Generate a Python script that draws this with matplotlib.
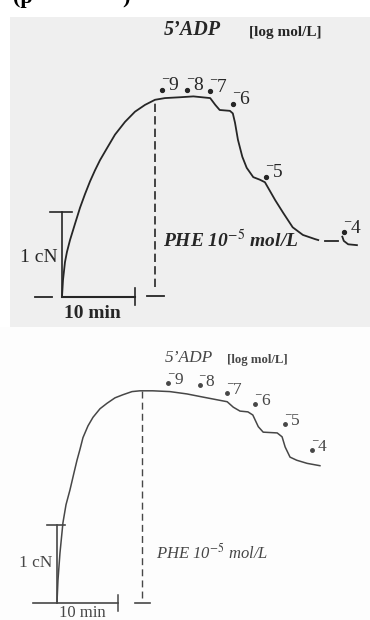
import matplotlib
matplotlib.use("Agg")
import matplotlib.pyplot as plt

plt.rcParams["font.family"] = ["Liberation Serif", "DejaVu Serif"]
plt.rcParams["mathtext.fontset"] = "stix"

# ---- pannello superiore: tensione (cN) nel tempo (min) ----
t_sup = [0, 0.14, 0.41, 0.68, 1.1, 1.78, 2.47, 3.15, 3.84, 4.52, 5.21, 6.16, 7.26, 8.63,
         10.0, 11.37, 12.74, 14.1, 16.2, 18.0, 20.3, 21.0, 21.6, 23.0, 23.4, 23.7, 24.1,
         24.7, 25.3, 26.2, 27.1, 27.8, 28.2, 29.2, 30.3, 31.6, 33.0, 34.7, 35.1]
f_sup = [0, 0.2, 0.41, 0.53, 0.67, 0.86, 1.05, 1.21, 1.36, 1.49, 1.61, 1.75, 1.91, 2.06,
         2.18, 2.26, 2.32, 2.34, 2.35, 2.36, 2.34, 2.26, 2.2, 2.19, 2.16, 2.05, 1.85,
         1.65, 1.52, 1.41, 1.38, 1.35, 1.29, 1.14, 0.99, 0.82, 0.73, 0.68, 0.67]
# pezzetti finali della traccia
t_sup_trat = [36.0, 37.8]
f_sup_trat = [0.66, 0.66]
t_sup_coda = [38.4, 38.6, 39.2, 40.4]
f_sup_coda = [0.71, 0.66, 0.62, 0.61]

# ---- pannello inferiore ----
t_inf = [0, 0.16, 0.49, 0.98, 1.48, 2.13, 2.79, 3.28, 3.77, 4.26, 5.08, 5.9, 7.05, 8.2,
         9.51, 10.82, 12.3, 13.6, 15.7, 18.5, 21.3, 23.9, 27.9, 28.9, 30.0, 31.3, 32.1,
         33.0, 33.8, 36.1, 36.9, 37.4, 38.2, 39.3, 41.0, 43.1]
f_inf = [0, 0.29, 0.64, 1.03, 1.26, 1.45, 1.67, 1.83, 1.97, 2.12, 2.27, 2.38, 2.49, 2.56,
         2.63, 2.67, 2.71, 2.72, 2.72, 2.71, 2.68, 2.64, 2.58, 2.51, 2.46, 2.45, 2.41,
         2.26, 2.19, 2.18, 2.13, 2.0, 1.87, 1.83, 1.79, 1.76]

# concentrazioni di 5'ADP (log mol/L) e punto dove sono state aggiunte
dosi = ["9", "8", "7", "6", "5", "4"]
t_dosi_sup = [13.7, 17.1, 20.3, 23.4, 27.9, 38.6]
f_dosi_sup = [2.44, 2.44, 2.42, 2.27, 1.41, 0.76]
t_dosi_inf = [18.2, 23.4, 27.9, 32.5, 37.4, 41.8]
f_dosi_inf = [2.82, 2.79, 2.69, 2.55, 2.29, 1.96]

# istante di aggiunta della fenilefrina
t_phe_sup = 12.7
t_phe_inf = 13.9

fig = plt.figure(figsize=(3.7, 6.2), dpi=100)

# scritta tagliata in alto a sinistra
fig.text(13 / 370, 1 - 3 / 620, "(p", fontsize=16, fontweight="bold", va="baseline")
fig.text(122 / 370, 1 - 3 / 620, ")", fontsize=16, fontweight="bold", va="baseline")


def pulisci(ax, colore):
    ax.set_facecolor(colore)
    for s in ax.spines.values():
        s.set_visible(False)
    ax.set_xticks([])
    ax.set_yticks([])


# ================= SOPRA =================
ax1 = fig.add_axes([10 / 370, 1 - 327 / 620, 360 / 370, 310 / 620])
pulisci(ax1, "#efefef")
ax1.set_xlim(-7.12, 42.19)
ax1.set_ylim(-0.353, 3.294)

c1 = "#262626"
ax1.plot(t_sup, f_sup, color=c1, lw=1.3)
ax1.plot(t_sup_trat, f_sup_trat, color=c1, lw=1.3)
ax1.plot(t_sup_coda, f_sup_coda, color=c1, lw=1.3)

# linea tratteggiata PHE
ax1.plot([t_phe_sup, t_phe_sup], [0.12, 2.32], color=c1, lw=1.2, ls=(0, (5, 2.5)))
ax1.plot([t_phe_sup - 1.1, t_phe_sup + 1.3], [0.01, 0.01], color=c1, lw=1.3)

# barre di scala 1 cN / 10 min
ax1.plot([0, 0], [0, 1], color=c1, lw=1.2)
ax1.plot([-1.64, 1.37], [1, 1], color=c1, lw=1.2)
ax1.plot([0, 10], [0, 0], color=c1, lw=1.5)
ax1.plot([10, 10], [-0.09, 0.1], color=c1, lw=1.2)
ax1.plot([-3.7, -1.37], [0, 0], color=c1, lw=1.3)
ax1.text(-0.6, 0.47, "1 cN", fontsize=14, ha="right", va="center", color=c1)
ax1.text(4.1, -0.19, "10 min", fontsize=14, fontweight="bold", ha="center", va="center", color=c1)

ax1.text(13.8, 0.67, r"PHE 10$^{-5}$ mol/L", fontsize=14, style="italic", fontweight="bold",
         ha="left", va="center", color=c1)
ax1.text(14.0, 3.14, "5\u2019ADP", fontsize=14.5, style="italic", fontweight="bold",
         ha="left", va="center", color=c1)
ax1.text(25.6, 3.11, "[log mol/L]", fontsize=11, fontweight="bold", ha="left", va="center", color=c1)

for d, t, f in zip(dosi, t_dosi_sup, f_dosi_sup):
    ax1.plot(t, f, "o", ms=2.8, color=c1)
    ax1.annotate("\u2013", (t, f), xytext=(2.4, 8.4), textcoords="offset points",
                 fontsize=9, fontweight="bold", ha="center", va="center", color=c1)
    ax1.annotate(d, (t, f), xytext=(8.3, 3), textcoords="offset points",
                 fontsize=14, ha="center", va="center", color=c1)

# ================= SOTTO =================
ax2 = fig.add_axes([0, 0, 1, 1 - 327 / 620])
pulisci(ax2, "#fdfdfd")
ax2.set_xlim(-9.34, 51.31)
ax2.set_ylim(-0.218, 3.538)

c2 = "#474747"
ax2.plot(t_inf, f_inf, color=c2, lw=1.1)

ax2.plot([t_phe_inf, t_phe_inf], [0.06, 2.72], color=c2, lw=1.0, ls=(0, (5, 3)))
ax2.plot([t_phe_inf - 1.1, t_phe_inf + 1.3], [0, 0], color=c2, lw=1.2)

ax2.plot([0, 0], [0, 1], color=c2, lw=1.2)
ax2.plot([-1.64, 1.31], [1, 1], color=c2, lw=1.2)
ax2.plot([-3.93, 10], [0, 0], color=c2, lw=1.2)
ax2.plot([10, 10], [-0.1, 0.1], color=c2, lw=1.1)
ax2.text(-0.7, 0.51, "1 cN", fontsize=12.5, ha="right", va="center", color=c2)
ax2.text(4.1, -0.125, "10 min", fontsize=12, ha="center", va="center", color=c2)

ax2.text(16.3, 0.64, r"PHE 10$^{-5}$ mol/L", fontsize=12, style="italic",
         ha="left", va="center", color=c2)
ax2.text(17.7, 3.14, "5\u2019ADP", fontsize=12.5, style="italic", ha="left", va="center", color=c2)
ax2.text(27.9, 3.12, "[log mol/L]", fontsize=9.2, fontweight="bold", ha="left", va="center", color=c2)

for d, t, f in zip(dosi, t_dosi_inf, f_dosi_inf):
    ax2.plot(t, f, "o", ms=2.5, color=c2)
    ax2.annotate("\u2013", (t, f), xytext=(1.8, 6.8), textcoords="offset points",
                 fontsize=8, fontweight="bold", ha="center", va="center", color=c2)
    ax2.annotate(d, (t, f), xytext=(7.5, 2.5), textcoords="offset points",
                 fontsize=12.5, ha="center", va="center", color=c2)

fig.savefig("out.png", dpi=100)
